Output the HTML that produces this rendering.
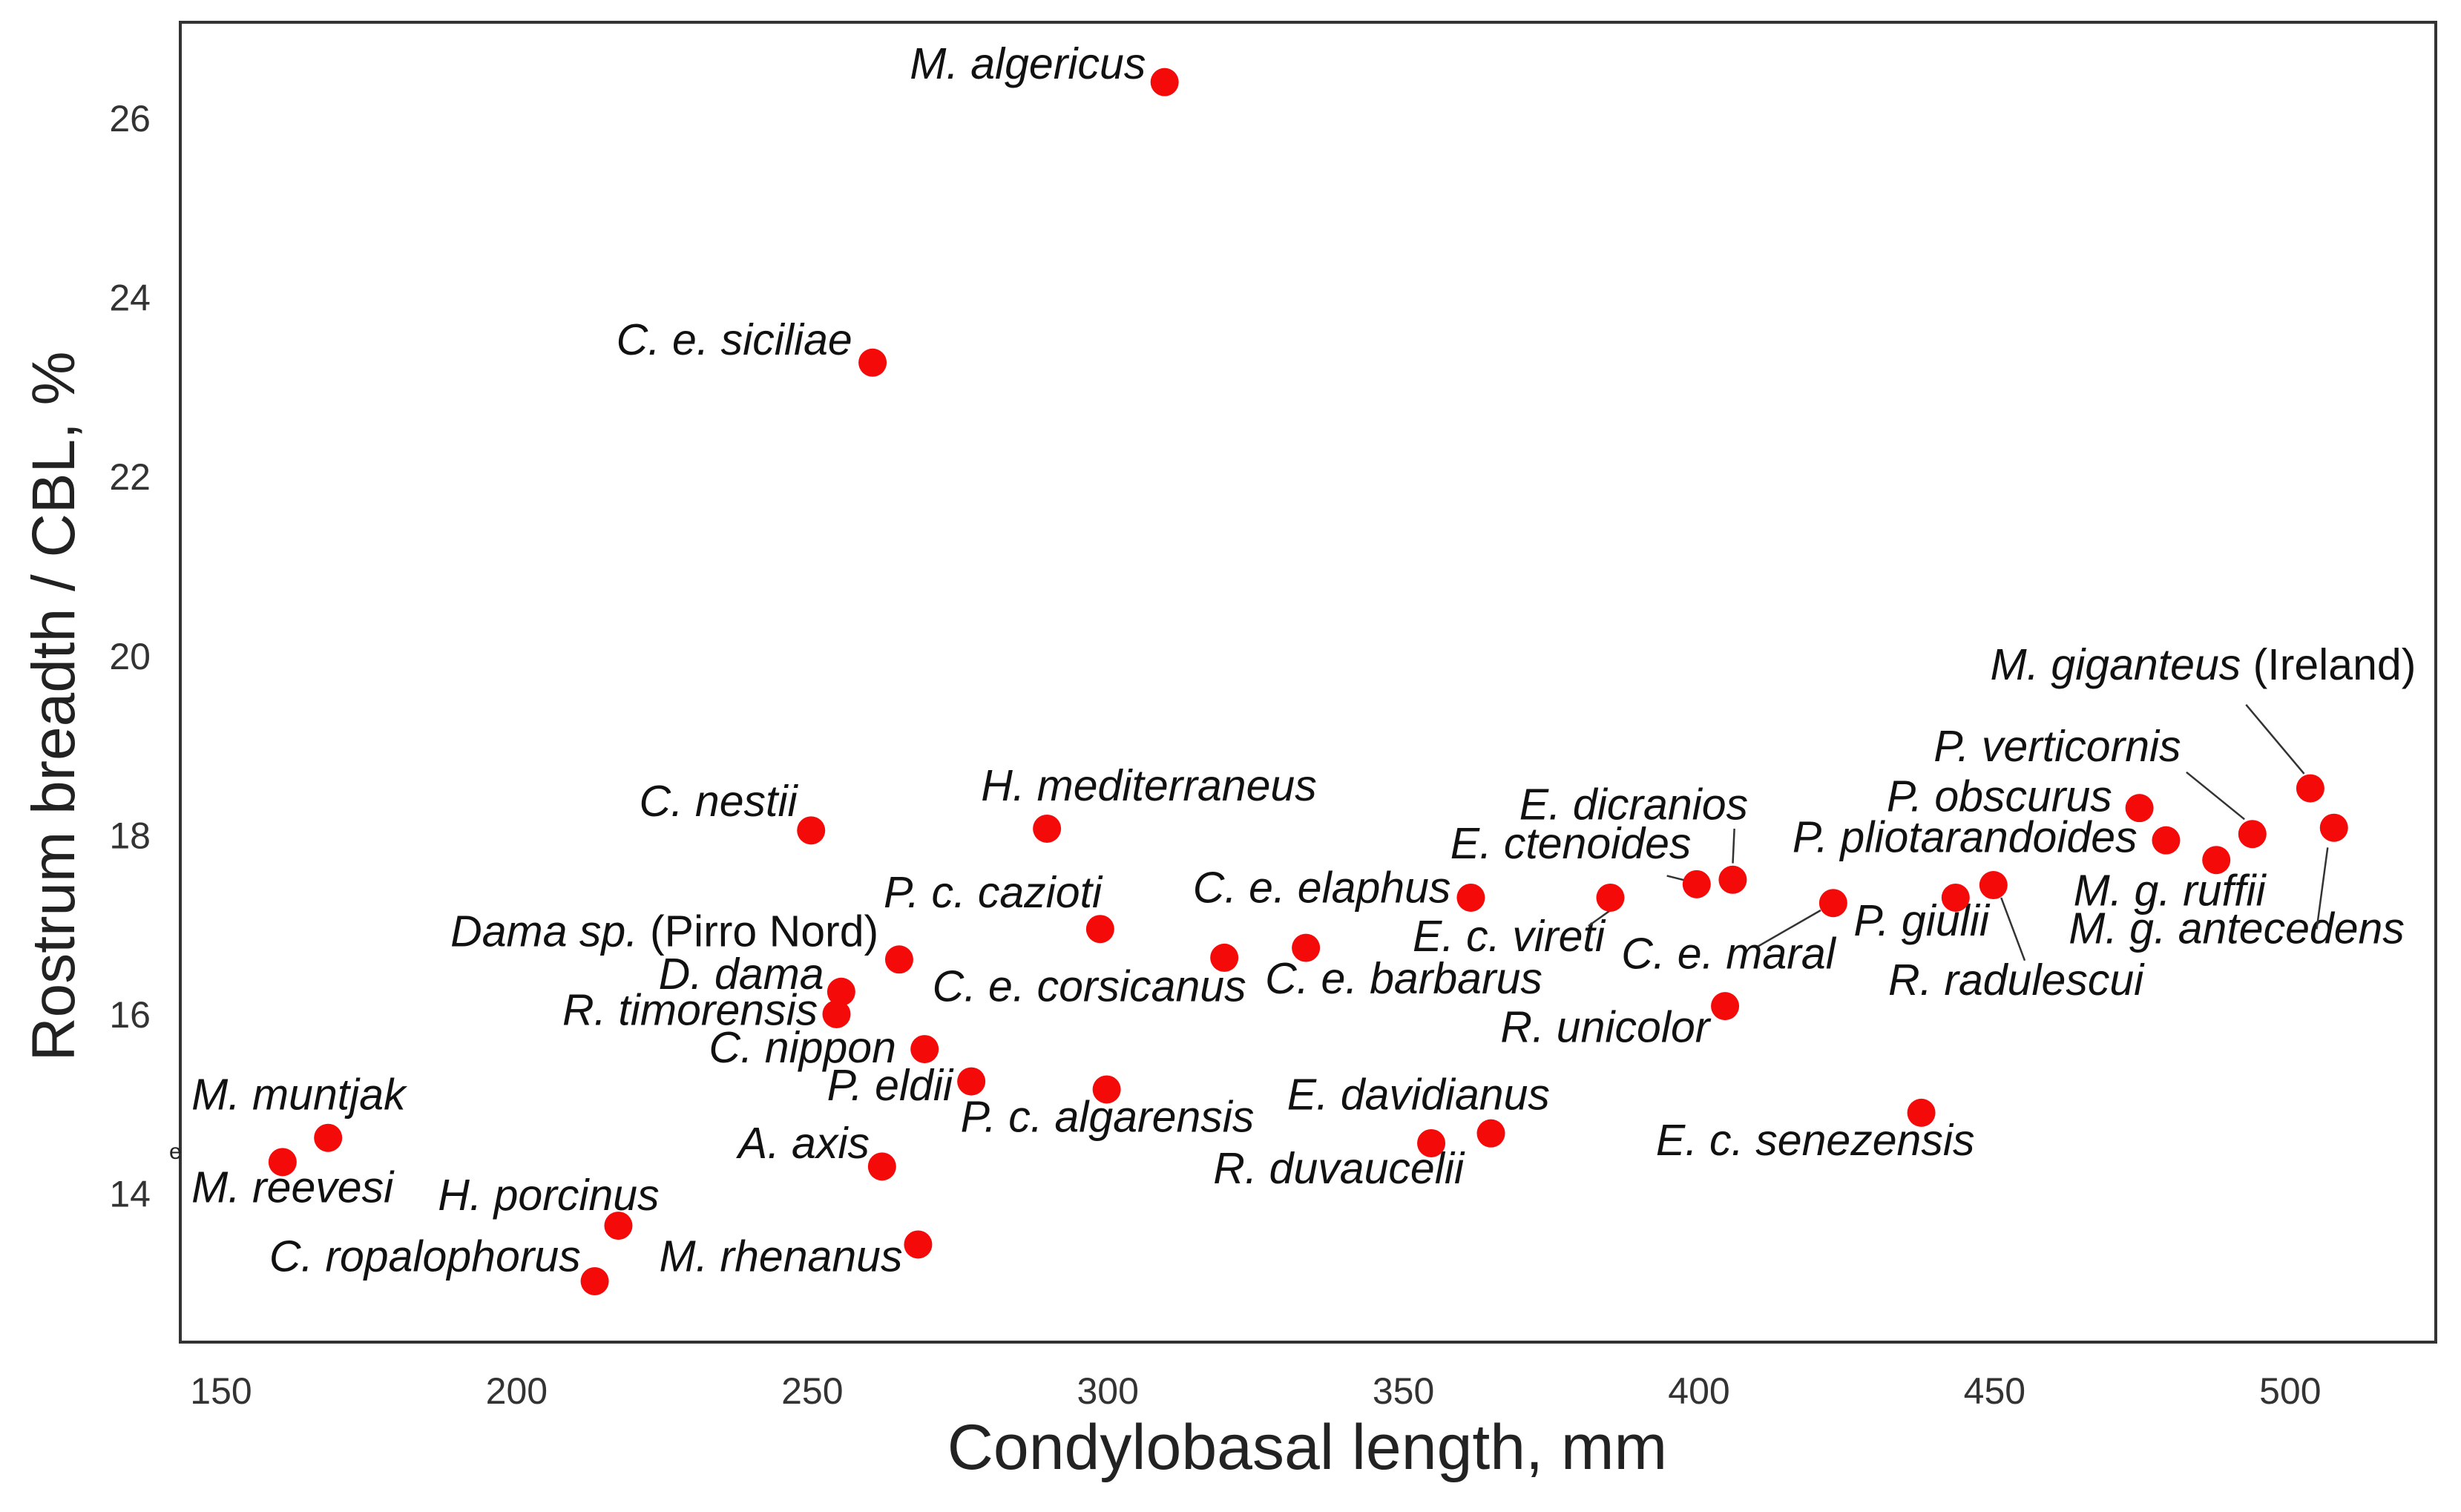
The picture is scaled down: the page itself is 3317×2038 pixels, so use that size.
<!DOCTYPE html>
<html><head><meta charset="utf-8"><style>
html,body{margin:0;padding:0;background:#fff;}
svg{display:block;}
text{font-family:"Liberation Sans",Arial,sans-serif;fill:#222;}
.lbl{font-style:italic;font-size:59px;fill:#111;}
.tick{font-size:50px;fill:#333;}
</style></head><body>
<svg id="chart" width="3317" height="2038" viewBox="0 0 3317 2038" xmlns="http://www.w3.org/2000/svg">
<rect x="0" y="0" width="3317" height="2038" fill="#fff"/>
<g id="labels-layer"></g>
<g id="points-layer"></g>
<rect x="243" y="30" width="3040" height="1779" fill="none" stroke="#333" stroke-width="4"/>
<g id="axes-layer"></g>
<text x="1762" y="1980" font-size="86" text-anchor="middle" fill="#222">Condylobasal length, mm</text>
<text transform="translate(100,952) rotate(-90)" font-size="82" text-anchor="middle" fill="#222">Rostrum breadth / CBL, %</text>
<text x="228" y="1562" font-size="30" fill="#555">e</text>
</svg>
<script>
const names = ["M. algericus","C. e. siciliae","C. nestii","H. mediterraneus","P. c. cazioti","Dama sp.","D. dama","R. timorensis","C. nippon","P. eldii","P. c. algarensis","C. e. corsicanus","C. e. barbarus","C. e. elaphus","E. c. vireti","E. ctenoides","E. dicranios","C. e. maral","R. unicolor","P. giulii","R. radulescui","E. c. senezensis","E. davidianus","R. duvaucelii","M. muntjak","M. reevesi","A. axis","H. porcinus","C. ropalophorus","M. rhenanus","P. obscurus","P. pliotarandoides","P. verticornis","M. g. ruffii","M. giganteus","M. g. antecedens"];
const cblValues = [309.6,260.2,249.8,289.7,298.7,264.7,254.9,254.1,269.0,276.9,299.8,319.7,333.5,361.4,385.0,399.6,405.7,422.7,404.4,443.4,449.8,437.6,364.8,354.7,168.1,160.4,261.8,217.2,213.2,267.9,474.5,479.0,493.6,487.5,503.4,507.4];
const ratioValues = [26.4,23.27,18.05,18.07,16.95,16.61,16.25,16.0,15.61,15.25,15.16,16.63,16.74,17.30,17.30,17.45,17.5,17.24,16.09,17.30,17.44,14.9,14.67,14.56,14.62,14.35,14.30,13.64,13.02,13.43,18.30,17.94,18.01,17.72,18.52,18.08];
const xTicks = [150,200,250,300,350,400,450,500];
const yTicks = [14,16,18,20,22,24,26];

const NS = "http://www.w3.org/2000/svg";
function xs(v){ return 298 + (v-150)*398.4/50; }
function ys(v){ return 159 + (26-v)*120.8; }
const S = 2.1155;
const layout = [
 ["M. algericus",730,50,"end","",null],
 ["C. e. siciliae",543,226,"end","",null],
 ["C. nestii",508,520,"end","",null],
 ["H. mediterraneus",625,510,"start","",null],
 ["P. c. cazioti",563,578,"start","",null],
 ["Dama sp.",287,603,"start"," (Pirro Nord)",null],
 ["D. dama",525,630,"end","",null],
 ["R. timorensis",521,653,"end","",null],
 ["C. nippon",571,677,"end","",null],
 ["P. eldii",607,701,"end","",null],
 ["P. c. algarensis",612,721,"start","",null],
 ["C. e. corsicanus",594,638,"start","",null],
 ["C. e. barbarus",806,633,"start","",null],
 ["C. e. elaphus",760,575,"start","",null],
 ["E. c. vireti",900,606,"start","",[1012,590,1026,580]],
 ["E. ctenoides",924,547,"start","",[1062,558,1078,562]],
 ["E. dicranios",968,522,"start","",[1105,528,1104,550]],
 ["C. e. maral",1033,617,"start","",[1120,603,1160,580]],
 ["R. unicolor",956,664,"start","",null],
 ["P. giulii",1181,596,"start","",null],
 ["R. radulescui",1203,634,"start","",[1290,612,1275,572]],
 ["E. c. senezensis",1055,736,"start","",null],
 ["E. davidianus",820,707,"start","",null],
 ["R. duvaucelii",773,754,"start","",null],
 ["M. muntjak",122,707,"start","",null],
 ["M. reevesi",122,766,"start","",null],
 ["A. axis",554,738,"end","",null],
 ["H. porcinus",279,771,"start","",null],
 ["C. ropalophorus",370,810,"end","",null],
 ["M. rhenanus",420,810,"start","",null],
 ["P. obscurus",1202,517,"start","",null],
 ["P. pliotarandoides",1142,543,"start","",null],
 ["P. verticornis",1232,485,"start","",[1393,492,1430,522]],
 ["M. g. ruffii",1321,577,"start","",null],
 ["M. giganteus",1268,433,"start"," (Ireland)",[1431,449,1468,493]],
 ["M. g. antecedens",1318,601,"start","",[1476,592,1483,540]]
];
const axes = document.getElementById("axes-layer");
xTicks.forEach(t=>{
  const tx = document.createElementNS(NS,"text");
  
  
  tx.setAttribute("x", xs(t)); tx.setAttribute("y", 1892);
  tx.setAttribute("class","tick"); tx.setAttribute("text-anchor","middle");
  tx.textContent = t; axes.appendChild(tx);
});
yTicks.forEach(t=>{
  const tx = document.createElementNS(NS,"text");
  
  
  tx.setAttribute("x", 203); tx.setAttribute("y", ys(t)+18);
  tx.setAttribute("class","tick"); tx.setAttribute("text-anchor","end");
  tx.textContent = t; axes.appendChild(tx);
});
const lab = document.getElementById("labels-layer");
layout.forEach(l=>{
  const t = document.createElementNS(NS,"text");
  
  
  t.setAttribute("x", l[1]*S); t.setAttribute("y", l[2]*S);
  t.setAttribute("class","lbl"); t.setAttribute("text-anchor", l[3]);
  t.textContent = l[0];
  if (l[4]) {
    const sp = document.createElementNS(NS,"tspan");
    sp.setAttribute("font-style","normal");
    sp.textContent = l[4]; t.appendChild(sp);
  }
  lab.appendChild(t);
  if (l[5]) {
    const ln = document.createElementNS(NS,"line");
    
    
    ln.setAttribute("x1", l[5][0]*S); ln.setAttribute("y1", l[5][1]*S);
    ln.setAttribute("x2", l[5][2]*S); ln.setAttribute("y2", l[5][3]*S);
    ln.setAttribute("stroke","#333"); ln.setAttribute("stroke-width","2.5");
    lab.appendChild(ln);
  }
});
const pts = document.getElementById("points-layer");
names.forEach((n,i)=>{
  const c = document.createElementNS(NS,"circle");
  
  
  c.setAttribute("cx", xs(cblValues[i])); c.setAttribute("cy", ys(ratioValues[i]));
  c.setAttribute("r", 19); c.setAttribute("fill","#f50a0a");
  const tt = document.createElementNS(NS,"title"); tt.textContent = n; c.appendChild(tt);
  pts.appendChild(c);
});
</script>
</body></html>
